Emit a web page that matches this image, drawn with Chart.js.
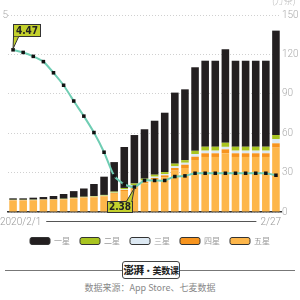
<!DOCTYPE html>
<html><head><meta charset="utf-8">
<script src="https://cdn.jsdelivr.net/npm/chart.js@4.4.0/dist/chart.umd.min.js"></script>
<style>
html,body{margin:0;padding:0;background:#fff;width:300px;height:300px;overflow:hidden;position:relative;}
#wrap{position:absolute;left:0;top:0;width:300px;height:255px;}
#unit{position:absolute;top:-6px;left:272px;font:300 9px 'Noto Sans CJK SC';color:#bbb;white-space:nowrap;}
#footline{position:absolute;left:5px;top:270px;width:290px;height:1px;background:#777;}
#logo{position:absolute;left:122px;top:261px;width:56px;height:16px;border:1px solid #444;border-radius:3px;background:#fff;font:bold 9px 'Noto Sans CJK SC';letter-spacing:-0.3px;color:#222;text-align:center;line-height:16px;white-space:nowrap;}
#logo b{font-size:10.5px;font-weight:900;}
#src{position:absolute;left:0;top:281px;width:300px;text-align:center;font:9px 'Noto Sans CJK SC';color:#888;white-space:nowrap;}
</style></head>
<body>
<div id="wrap"><canvas id="c"></canvas></div>
<div id="unit">(万条)</div>
<div id="footline"></div>
<div id="logo"><b>澎湃</b>·美数课</div>
<div id="src">数据来源：App Store、七麦数据</div>
<script>
const categories = ['2020/2/1','2/2','2/3','2/4','2/5','2/6','2/7','2/8','2/9','2/10','2/11','2/12','2/13','2/14','2/15','2/16','2/17','2/18','2/19','2/20','2/21','2/22','2/23','2/24','2/25','2/26','2/27'];
const seriesNames = ['一星','二星','三星','四星','五星'];
const oneStar   = [1.1,1.1,1.5,1.8,2.5,3.6,5.0,6.3,9.1,13.9,22.5,31.2,36.9,37.6,41.1,45.2,54.1,53.9,63.6,65.5,65.5,71.2,65.5,65.5,65.5,65.5,79.5];
const twoStar   = [0.2,0.2,0.2,0.2,0.2,0.3,0.3,0.4,0.5,0.6,0.8,1.0,1.2,1.5,1.5,1.5,2.0,2.0,2.5,3.0,3.0,3.1,3.0,3.0,3.0,3.0,3.0];
const threeStar = [0.1,0.1,0.1,0.1,0.1,0.1,0.2,0.2,0.2,0.3,0.4,0.5,0.7,0.8,1.0,1.0,1.3,1.5,2.0,2.0,2.0,1.9,2.0,2.0,2.0,2.0,3.3];
const fourStar  = [0.2,0.2,0.2,0.2,0.2,0.2,0.3,0.3,0.3,0.4,0.6,0.8,1.0,1.2,1.5,1.5,2.0,2.5,2.5,2.8,2.8,3.0,2.8,2.8,2.8,2.8,3.3];
const fiveStar  = [8.8,8.8,8.9,9.1,9.2,9.5,10.1,10.7,11.2,11.7,13.7,16.0,18.8,21.9,24.4,26.4,31.5,33.5,39.6,41.9,41.9,44.7,41.9,41.9,41.9,41.9,49.0];
const rating    = [4.47,4.43,4.37,4.29,4.12,3.93,3.69,3.46,3.21,2.91,2.55,2.42,2.38,2.48,2.48,2.48,2.54,2.55,2.59,2.59,2.59,2.59,2.59,2.59,2.59,2.59,2.56];
const countTicks = [0,30,60,90,120,150];
const ratingTicks = [2,5];

const colors = {one:'#231f20',two:'#a9c420',three:'#dde9f3',four:'#f7941e',five:'#fdb64a',line:'#6fcdb3'};

const calloutPlugin = {
  id:'callouts',
  afterDatasetsDraw(chart){
    const ctx = chart.ctx;
    const meta = chart.getDatasetMeta(5);
    const maxI = rating.indexOf(Math.max(...rating));
    const minI = rating.indexOf(Math.min(...rating));
    ctx.save();
    ctx.font = 'bold 10px "DejaVu Sans Condensed", "DejaVu Sans"';
    ctx.textAlign = 'center'; ctx.textBaseline = 'middle';
    ctx.lineWidth = 1; ctx.strokeStyle = '#333';
    function box(x,y,w,h,tail,txt){
      ctx.fillStyle = '#c3d02c';
      ctx.beginPath();
      ctx.moveTo(tail[0][0],tail[0][1]); ctx.lineTo(tail[1][0],tail[1][1]); ctx.lineTo(tail[2][0],tail[2][1]);
      ctx.closePath(); ctx.fill(); ctx.stroke();
      ctx.fillRect(x,y,w,h); ctx.strokeRect(x+0.5,y+0.5,w,h);
      ctx.beginPath();
      ctx.moveTo(tail[0][0]+0.5,tail[0][1]); ctx.lineTo(tail[2][0]-0.5,tail[2][1]);
      ctx.strokeStyle='#c3d02c'; ctx.stroke(); ctx.strokeStyle='#333';
      ctx.fillStyle = '#222';
      ctx.fillText(txt, x+w/2+0.5, y+h/2+1);
    }
    const p = meta.data[maxI];
    box(Math.round(p.x), Math.round(p.y-26), 27, 12, [[p.x+0.5,p.y-14],[p.x,p.y-1],[p.x+6,p.y-14]], rating[maxI].toFixed(2));
    const q = meta.data[minI];
    box(Math.round(q.x-27), Math.round(q.y+14), 25, 11, [[q.x-8,q.y+14.5],[q.x,q.y+1],[q.x-2.5,q.y+14.5]], rating[minI].toFixed(2));
    ctx.restore();
  }
};

const dateRowPlugin = {
  id:'daterow',
  afterDraw(chart){
    const ctx = chart.ctx, a = chart.chartArea;
    const y = a.bottom + 10;
    ctx.save();
    ctx.font = '300 10px Roboto';
    ctx.fillStyle = '#999'; ctx.textBaseline = 'middle';
    const first = categories[0], last = categories[categories.length-1];
    ctx.textAlign = 'left'; ctx.fillText(first, 0, y);
    ctx.textAlign = 'right'; ctx.fillText(last, a.right, y);
    const w1 = ctx.measureText(first).width, w2 = ctx.measureText(last).width;
    ctx.strokeStyle = '#555'; ctx.lineWidth = 1;
    ctx.beginPath(); ctx.moveTo(w1+5, y-0.5); ctx.lineTo(a.right-w2-4, y-0.5); ctx.stroke();
    ctx.restore();
  }
};

const barDs = (label, data, color) => ({type:'bar', label, data, backgroundColor:color, borderWidth:0, yAxisID:'y', order:2, barPercentage:0.75, categoryPercentage:1, stack:'s'});

new Chart(document.getElementById('c'), {
  data:{
    labels: categories,
    datasets:[
      barDs(seriesNames[4], fiveStar, colors.five),
      barDs(seriesNames[3], fourStar, colors.four),
      barDs(seriesNames[2], threeStar, colors.three),
      barDs(seriesNames[1], twoStar, colors.two),
      barDs(seriesNames[0], oneStar, colors.one),
      {type:'line', label:'评分', data:rating, yAxisID:'y2', order:0, borderColor:colors.line, borderWidth:2, tension:0.2,
       pointStyle:'rect', pointRadius:2.5, pointBackgroundColor:'#111', pointBorderWidth:0}
    ]
  },
  options:{
    responsive:true, maintainAspectRatio:false, animation:false,
    layout:{padding:{top:15,left:0,right:0,bottom:0}},
    plugins:{
      tooltip:{enabled:false},
      legend:{
        position:'bottom',
        labels:{
          boxWidth:20, boxHeight:7, padding:10, color:'#999', useBorderRadius:true, borderRadius:2,
          font:{size:8, family:'"Noto Sans CJK SC"'},
          generateLabels(chart){
            const items = Chart.defaults.plugins.legend.labels.generateLabels(chart);
            return items.filter(i=>i.datasetIndex<5).reverse().map(i=>Object.assign(i,{strokeStyle:'#333', lineWidth:1}));
          }
        }
      }
    },
    scales:{
      x:{stacked:true, offset:true, grid:{display:false, drawTicks:false}, ticks:{display:false},
         border:{display:true, color:'#333', width:1.5}, afterFit(s){s.height=15;}},
      y:{position:'right', stacked:true, min:countTicks[0], max:countTicks[countTicks.length-1],
         ticks:{stepSize:countTicks[1]-countTicks[0], autoSkip:false, color:'#aaa', font:{size:10, family:'Roboto', weight:300}, padding:1},
         grid:{color:'#d0d0d0', drawTicks:false, lineWidth:1},
         border:{display:false, dash:[1,2]},
         afterFit(s){s.width=19;}},
      y2:{position:'left', min:ratingTicks[0], max:ratingTicks[1],
         ticks:{stepSize:1, autoSkip:false, color:'#aaa', font:{size:10, family:'Roboto', weight:300}, padding:0,
                callback:(v)=> v===ratingTicks[1] ? String(v) : ''},
         grid:{display:false, drawTicks:false}, border:{display:false},
         afterFit(s){s.width=8;}}
    }
  },
  plugins:[calloutPlugin, dateRowPlugin]
});
</script>
</body></html>
